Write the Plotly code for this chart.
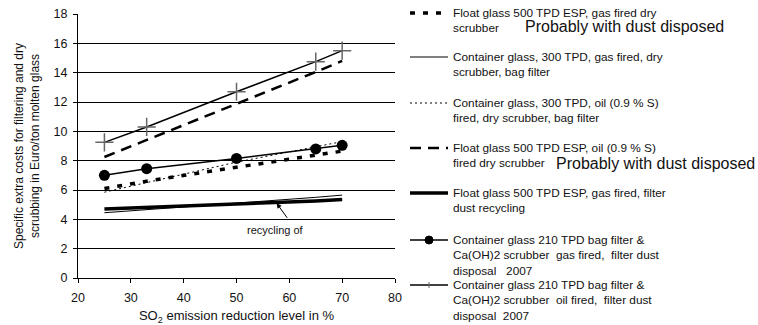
import plotly.graph_objects as go

x_levels = [25, 33, 50, 65, 70]

names = [
    "Float glass 500 TPD ESP, gas fired dry<br>scrubber",
    "Container glass, 300 TPD, gas fired, dry<br>scrubber, bag filter",
    "Container glass, 300 TPD, oil (0.9 % S)<br>fired, dry scrubber, bag filter",
    "Float glass 500 TPD ESP, oil (0.9 % S)<br>fired dry scrubber",
    "Float glass 500 TPD ESP, gas fired, filter<br>dust recycling",
    "Container glass 210 TPD bag filter &<br>Ca(OH)2 scrubber  gas fired,  filter dust<br>disposal   2007",
    "Container glass 210 TPD bag filter &<br>Ca(OH)2 scrubber  oil fired,  filter dust<br>disposal  2007",
]

float_gas_dry = [6.1, 6.6, 7.55, 8.4, 8.65]
container300_gas = [4.45, 4.65, 5.1, 5.5, 5.65]
container300_oil = [5.85, 6.5, 7.9, 8.95, 9.3]
float_oil_dry = [8.25, 9.4, 11.85, 14.05, 14.8]
float_gas_recycling = [4.7, 4.8, 5.05, 5.25, 5.35]
container210_gas = [7.0, 7.45, 8.15, 8.8, 9.05]
container210_oil = [9.25, 10.3, 12.7, 14.75, 15.5]

series = [float_gas_dry, container300_gas, container300_oil, float_oil_dry,
          float_gas_recycling, container210_gas, container210_oil]

line_styles = [
    dict(color="black", width=3.5, dash="5px,8px"),
    dict(color="black", width=1),
    dict(color="black", width=1, dash="2px,3px"),
    dict(color="black", width=2.5, dash="11px,7px"),
    dict(color="black", width=3.5),
    dict(color="black", width=1.5),
    dict(color="black", width=1.5),
]
marker_styles = [
    None, None, None, None, None,
    dict(symbol="circle", size=11, color="black"),
    dict(symbol="cross-thin", size=13, color="#666", line=dict(color="#666", width=1.5)),
]

W, H = 758, 325
L, R, T, B = 78, 395, 14, 278


def px(xp):
    return (xp - L) / (R - L)


def py(yp):
    return (B - yp) / (B - T)


fig = go.Figure()
for nm, ys, ls, ms in zip(names, series, line_styles, marker_styles):
    kw = dict(mode="lines", line=ls)
    if ms:
        kw = dict(mode="lines+markers", line=ls, marker=ms)
    fig.add_trace(go.Scatter(x=x_levels, y=ys, name=nm.replace("<br>", " "),
                             showlegend=False, **kw))

font_family = "Liberation Sans, Arial, sans-serif"

fig.update_layout(
    width=W, height=H,
    margin=dict(l=L, r=W - R, t=T, b=H - B, autoexpand=False),
    paper_bgcolor="white", plot_bgcolor="white",
    font=dict(family=font_family, size=12.5, color="#111"),
    showlegend=False,
    xaxis=dict(range=[20, 80], dtick=10, tick0=20, showgrid=False, zeroline=False,
               showline=True, linecolor="black", linewidth=1,
               ticks="outside", ticklen=4, tickcolor="black",
               tickfont=dict(size=12.5), automargin=False, ticklabelstandoff=4,
               title=dict(text="SO<sub>2</sub> emission reduction level in %",
                          font=dict(size=13), standoff=9)),
    yaxis=dict(range=[0, 18], dtick=2, tick0=0, showgrid=True, gridcolor="black",
               gridwidth=1, zeroline=False, showline=True, linecolor="black",
               linewidth=1, ticks="outside", ticklen=4, tickcolor="black",
               tickfont=dict(size=12.5), automargin=False, ticklabelstandoff=3,
               title=dict(text="Specific extra costs for filtering and dry<br>scrubbing in Euro/ton molten glass",
                          font=dict(size=12), standoff=11)),
)

# arrow + label
fig.add_annotation(x=57.6, y=5.1, ax=59.8, ay=4.0, xref="x", yref="y",
                   axref="x", ayref="y", text="", showarrow=True,
                   arrowhead=2, arrowsize=1, arrowwidth=1, arrowcolor="black")
fig.add_annotation(x=57.3, y=3.3, xref="x", yref="y", text="recycling of",
                   showarrow=False, font=dict(size=11, color="#111"))

# manual legend
leg_font = 11.8
lh = leg_font * 1.3
first_line_y = [13, 57, 103, 148, 193, 240, 285]
sx0, sx1, tx = 410, 448, 451
for nm, fy, ls, ms in zip(names, first_line_y, line_styles, marker_styles):
    nlines = nm.count("<br>") + 1
    cy = fy + (nlines - 1) * lh / 2
    fig.add_annotation(x=px(tx), y=py(cy), xref="paper", yref="paper",
                       xanchor="left", yanchor="middle", align="left",
                       text=nm, showarrow=False,
                       font=dict(size=leg_font, color="#111"))
    fig.add_shape(type="line", xref="paper", yref="paper",
                  x0=px(sx0), x1=px(sx1), y0=py(fy), y1=py(fy),
                  line=dict(color=ls["color"], width=ls["width"], dash=ls.get("dash", "solid")))
    if ms and ms["symbol"] == "circle":
        r = 4
        fig.add_shape(type="circle", xref="paper", yref="paper",
                      x0=px(429 - r), x1=px(429 + r), y0=py(fy - r), y1=py(fy + r),
                      fillcolor="black", line=dict(color="black", width=1))
    elif ms:
        fig.add_shape(type="line", xref="paper", yref="paper",
                      x0=px(429), x1=px(429), y0=py(fy - 3), y1=py(fy + 3),
                      line=dict(color="#666", width=1))

# notes
fig.add_annotation(x=px(523), y=py(27), xref="paper", yref="paper", xanchor="left",
                   yanchor="middle", text="Probably with dust disposed",
                   showarrow=False, font=dict(size=16, color="#111"))
fig.add_annotation(x=px(554), y=py(164), xref="paper", yref="paper", xanchor="left",
                   yanchor="middle", text="Probably with dust disposed",
                   showarrow=False, font=dict(size=16, color="#111"))

fig.write_html("out.html", config={"displayModeBar": False},
               post_script="document.body.style.margin='0';document.body.style.overflow='hidden';")
